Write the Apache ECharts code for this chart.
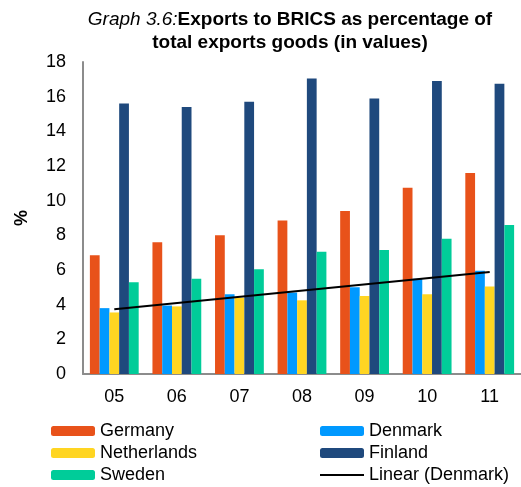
<!DOCTYPE html>
<html>
<head>
<meta charset="utf-8">
<script src="https://cdn.jsdelivr.net/npm/echarts@6/dist/echarts.min.js"></script>
<style>
  html, body { margin: 0; padding: 0; background: #fff; }
  #chart { width: 521px; height: 487px; }
</style>
</head>
<body>
<div id="chart"></div>
<script>
// years (2005-2011)
const years = ['05', '06', '07', '08', '09', '10', '11'];
const germany = [6.85, 7.6, 8.0, 8.85, 9.4, 10.75, 11.6];
const denmark = [3.8, 3.95, 4.6, 4.7, 5.0, 5.5, 5.95];
const netherlands = [3.55, 3.9, 4.4, 4.25, 4.5, 4.6, 5.05];
const finland = [15.6, 15.4, 15.7, 17.05, 15.9, 16.9, 16.75];
const sweden = [5.3, 5.5, 6.05, 7.05, 7.15, 7.8, 8.6];
// trend line endpoints
const linearDenmark = [3.73, null, null, null, null, null, 5.88];

const font = 'Liberation Sans, Arial, sans-serif';
const chart = echarts.init(document.getElementById('chart'));

const bar = (name, data, color) => ({
  name: name,
  type: 'bar',
  data: data,
  barGap: '0%',
  barCategoryGap: '22%',
  itemStyle: { color: color },
  z: 2
});

const legendText = { fontSize: 18, color: '#000', fontFamily: font, lineHeight: 20 };

chart.setOption({
  animation: false,
  textStyle: { fontFamily: font },
  title: {
    left: 285,
    top: 3,
    textAlign: 'center',
    text: '{i|Graph 3.6:}{b|Exports to BRICS as percentage of}\n{b|total exports goods (in values)}',
    textStyle: {
      rich: {
        i: { fontStyle: 'italic', fontWeight: 'normal', fontSize: 19, color: '#000', fontFamily: font, lineHeight: 23 },
        b: { fontWeight: 'bold', fontSize: 19, color: '#000', fontFamily: font, lineHeight: 23 }
      }
    }
  },
  legend: [
    {
      left: 46, top: 416, orient: 'vertical', height: 70,
      itemWidth: 44, itemHeight: 10, itemGap: 2,
      textStyle: legendText,
      data: ['Germany', 'Netherlands', 'Sweden']
    },
    {
      left: 314, top: 416, orient: 'vertical', height: 70,
      itemWidth: 44, itemHeight: 10, itemGap: 2,
      textStyle: legendText,
      data: ['Denmark', 'Finland', {
        name: 'Linear (Denmark)',
        itemStyle: { opacity: 0 }
      }]
    }
  ],
  grid: { left: 83, top: 62, width: 441, height: 312 },
  xAxis: {
    type: 'category',
    data: years,
    axisLine: { lineStyle: { color: '#8c8c8c', width: 2 } },
    axisTick: { show: false },
    axisLabel: { fontSize: 18, color: '#000', margin: 14, fontFamily: font }
  },
  yAxis: {
    type: 'value',
    min: 0, max: 18, interval: 2,
    name: '%',
    nameLocation: 'middle',
    nameRotate: 90,
    nameGap: 52,
    nameTextStyle: { fontSize: 18, fontWeight: 'bold', color: '#000', fontFamily: font },
    axisLine: { show: true, lineStyle: { color: '#8c8c8c', width: 2 } },
    axisTick: { show: false },
    splitLine: { show: false },
    axisLabel: { fontSize: 18, color: '#000', margin: 17, fontFamily: font }
  },
  series: [
    bar('Germany', germany, '#E8521A'),
    bar('Denmark', denmark, '#0099FF'),
    bar('Netherlands', netherlands, '#FFD522'),
    bar('Finland', finland, '#1F497D'),
    bar('Sweden', sweden, '#00CC99'),
    {
      name: 'Linear (Denmark)',
      type: 'line',
      data: linearDenmark,
      connectNulls: true,
      symbol: 'none',
      lineStyle: { color: '#000', width: 2 },
      itemStyle: { color: '#000' },
      z: 5
    }
  ]
});
</script>
</body>
</html>
